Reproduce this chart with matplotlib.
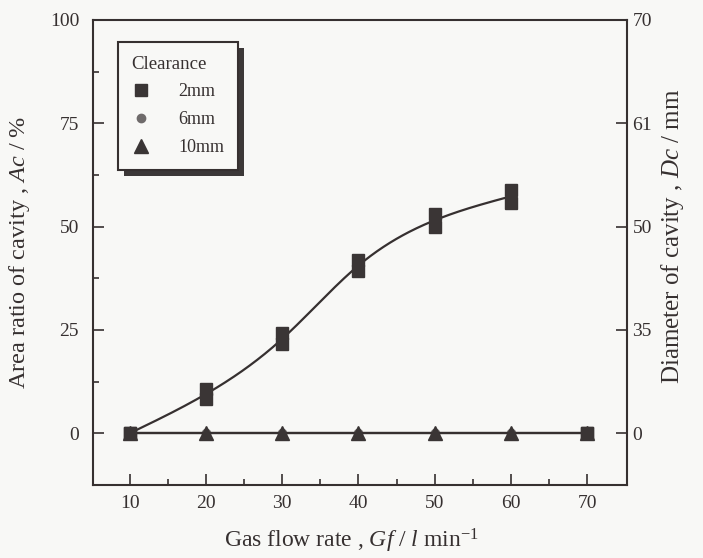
import numpy as np
import matplotlib
matplotlib.use("Agg")
import matplotlib.pyplot as plt
from matplotlib.patches import Rectangle
from matplotlib.lines import Line2D

# ---- data -------------------------------------------------------------
gas_flow = [10, 20, 30, 40, 50, 60, 70]          # l/min
# area ratio of cavity (%) for 2 mm clearance, two repeated runs
ac_2mm_run1 = [0, 10.8, 24.2, 41.9, 53.1, 58.9, 0]
ac_2mm_run2 = [0, 8.2, 21.5, 39.3, 50.0, 55.8, 0]
ac_6mm = [0, 0, 0, 0, 0, 0, 0]
ac_10mm = [0, 0, 0, 0, 0, 0, 0]

x_ticks = [10, 20, 30, 40, 50, 60, 70]
x_minor = [15, 25, 35, 45, 55, 65]
y_ticks = [0, 25, 50, 75, 100]
y_minor = [12.5, 37.5, 62.5, 87.5]
right_labels = ["0", "35", "50", "61", "70"]
clearance_labels = ["2mm", "6mm", "10mm"]

# ---- style ------------------------------------------------------------
plt.rcParams["font.family"] = ["Liberation Serif", "DejaVu Serif"]
plt.rcParams["mathtext.fontset"] = "custom"
plt.rcParams["mathtext.rm"] = "Liberation Serif"
plt.rcParams["mathtext.it"] = "Liberation Serif:italic"

bg = "#f8f8f6"
ink = "#363030"
mark = "#3a3535"


def natural_spline(x, y, xs):
    x = np.asarray(x, float)
    y = np.asarray(y, float)
    n = len(x)
    h = np.diff(x)
    A = np.zeros((n, n))
    r = np.zeros(n)
    A[0, 0] = A[-1, -1] = 1.0
    for i in range(1, n - 1):
        A[i, i - 1] = h[i - 1]
        A[i, i] = 2 * (h[i - 1] + h[i])
        A[i, i + 1] = h[i]
        r[i] = 3 * ((y[i + 1] - y[i]) / h[i] - (y[i] - y[i - 1]) / h[i - 1])
    c = np.linalg.solve(A, r)
    b = (y[1:] - y[:-1]) / h - h * (2 * c[:-1] + c[1:]) / 3
    d = (c[1:] - c[:-1]) / (3 * h)
    idx = np.clip(np.searchsorted(x, xs, side="right") - 1, 0, n - 2)
    t = xs - x[idx]
    return y[idx] + b[idx] * t + c[idx] * t ** 2 + d[idx] * t ** 3


fig = plt.figure(figsize=(7.03, 5.58), dpi=100, facecolor=bg)
ax = fig.add_axes([93 / 703, 1 - 485 / 558, 534 / 703, 465 / 558])
ax.set_facecolor(bg)

gf = np.array(gas_flow, float)
r1 = np.array(ac_2mm_run1, float)
r2 = np.array(ac_2mm_run2, float)
mean_2mm = (r1 + r2) / 2

# smooth trend of the 2 mm clearance where a cavity forms (10 - 60 l/min)
grow = gf <= 60
xs = np.linspace(gf[grow][0], gf[grow][-1], 300)
ax.plot(xs, natural_spline(gf[grow], mean_2mm[grow], xs), color=ink, lw=1.6, zorder=3)

# 6 mm and 10 mm clearances: no cavity
ax.plot(gas_flow, ac_6mm, color=ink, lw=1.6, marker="o", ms=6,
        mfc="#6f6b6b", mec="#6f6b6b", zorder=3)
ax.plot(gas_flow, ac_10mm, color=ink, lw=1.6, ls="none", marker="^", ms=10,
        mfc=mark, mec=mark, zorder=4)
ax.plot(gas_flow, ac_10mm, color=ink, lw=1.6, zorder=3)

# 2 mm clearance points
for run in (ac_2mm_run1, ac_2mm_run2):
    ax.plot(gas_flow, run, ls="none", marker="s", ms=8.6, mfc=mark, mec=mark, zorder=5)

ax.set_xlim(5.2, 75.2)
ax.set_ylim(-12.5, 100)
ax.set_xticks(x_ticks)
ax.set_xticks(x_minor, minor=True)
ax.set_yticks(y_ticks)
ax.set_yticks(y_minor, minor=True)
ax.tick_params(which="both", direction="in", colors=ink, width=1.2, labelsize=14)
ax.tick_params(which="major", length=8)
ax.tick_params(which="minor", length=4)
ax.tick_params(axis="y", pad=10)
ax.tick_params(axis="x", pad=7)
for s in ax.spines.values():
    s.set_color(ink)
    s.set_linewidth(1.5)

ax.set_xlabel("Gas flow rate , $Gf$ / $l$ min$^{-1}$", fontsize=17, color=ink)
ax.set_ylabel("Area ratio of cavity , $Ac$ / %", fontsize=17.5, color=ink)
ax.xaxis.set_label_coords(0.485, -0.09)
ax.yaxis.set_label_coords(-0.115, 0.5)

# right axis: cavity diameter
ax2 = ax.twinx()
ax2.set_ylim(ax.get_ylim())
ax2.set_yticks(y_ticks)
ax2.set_yticklabels(right_labels)
ax2.tick_params(direction="in", length=8, width=1.2, colors=ink, labelsize=14, pad=4)
for s in ax2.spines.values():
    s.set_visible(False)
ax2.set_ylabel("Diameter of cavity , $Dc$ / mm", fontsize=18, color=ink)
ax2.yaxis.set_label_coords(1.06, 0.535)

# legend with a drop shadow
handles = [
    Line2D([], [], ls="none", marker="s", ms=8.6, mfc=mark, mec=mark),
    Line2D([], [], ls="none", marker="o", ms=6, mfc="#6f6b6b", mec="#6f6b6b"),
    Line2D([], [], ls="none", marker="^", ms=10, mfc=mark, mec=mark),
]
leg = ax.legend(handles, clearance_labels, title="Clearance",
                loc="upper left", bbox_to_anchor=(118 / 703, 1 - 42 / 558),
                bbox_transform=fig.transFigure, fontsize=13, title_fontsize=13.5,
                frameon=True, fancybox=False, framealpha=1, facecolor=bg,
                edgecolor=ink, alignment="left", handlelength=1.0,
                handletextpad=1.6, labelspacing=0.6, borderpad=0.75,
                borderaxespad=0)
leg.get_frame().set_linewidth(1.5)
leg.set_zorder(10)
for t in leg.get_texts():
    t.set_color(ink)
leg.get_title().set_color(ink)

fig.canvas.draw()
bb = leg.get_window_extent()
inv = fig.transFigure.inverted()
(x0, y0), (x1, y1) = inv.transform([(bb.x0 + 6, bb.y0 - 6), (bb.x1 + 6, bb.y1 - 6)])
ax.add_patch(Rectangle((x0, y0), x1 - x0, y1 - y0, transform=fig.transFigure,
                       facecolor="#3c3838", edgecolor="none", zorder=9, clip_on=False))

fig.savefig("out.png", dpi=100, facecolor=bg)
